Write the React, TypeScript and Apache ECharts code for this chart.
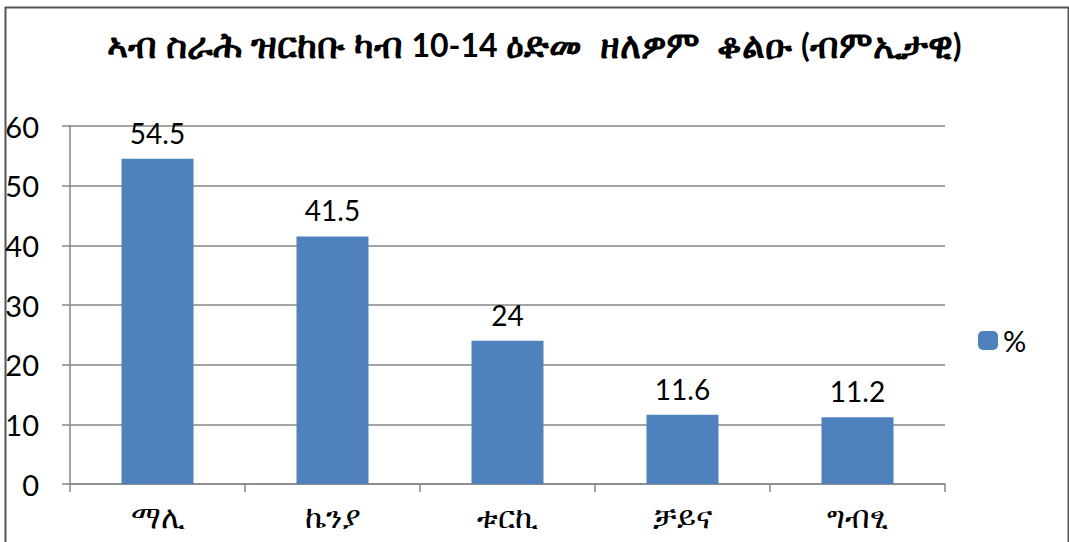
import React, { useEffect, useRef } from "react";
import * as echarts from "echarts";

const titleParts = [
  { t: "ኣብ ስራሕ ዝርከቡ ካብ ", s: "e" },
  { t: "10-14", s: "n" },
  { t: " ዕድመ  ዘለዎም  ቆልዑ ", s: "e" },
  { t: "(", s: "n" },
  { t: "ብምኢታዊ", s: "e" },
  { t: ")", s: "n" },
];
const categories = ["ማሊ", "ኬንያ", "ቱርኪ", "ቻይና", "ግብፂ"];
const seriesName = "%";
const values = [54.5, 41.5, 24, 11.6, 11.2];
const yMin = 0;
const yMax = 60;
const yInterval = 10;

const FONT = "Lato, 'DejaVu Sans', sans-serif";

export default function App() {
  const ref = useRef<HTMLDivElement>(null);
  useEffect(() => {
    if (!ref.current) return;
    const chart = echarts.init(ref.current, undefined, { renderer: "svg" });
    const titleText = titleParts.map((p) => `{${p.s}|${p.t}}`).join("");
    chart.setOption({
      animation: false,
      backgroundColor: "#ffffff",
      title: {
        text: titleText,
        left: "center",
        top: 21,
        textStyle: {
          fontFamily: FONT,
          fontSize: 32,
          fontWeight: "bold",
          color: "#000",
          rich: {
            e: { fontFamily: FONT, fontSize: 36, fontWeight: "bold", color: "#000" },
            n: { fontFamily: FONT, fontSize: 32, fontWeight: "bold", color: "#000" },
          },
        },
      },
      legend: {
        data: [seriesName],
        orient: "vertical",
        left: 973,
        top: 321,
        itemWidth: 20,
        itemHeight: 19,
        itemGap: 8,
        textStyle: { fontFamily: FONT, fontSize: 29, color: "#000" },
      },
      grid: { left: 70, right: 124, top: 126, bottom: 58, containLabel: false },
      xAxis: {
        type: "category",
        data: categories,
        axisLine: { show: true, lineStyle: { color: "#868686", width: 1.5 } },
        axisTick: { show: true, length: 8, lineStyle: { color: "#868686", width: 1.5 } },
        axisLabel: { fontFamily: FONT, fontSize: 31, color: "#000", margin: 16 },
      },
      yAxis: {
        type: "value",
        min: yMin,
        max: yMax,
        interval: yInterval,
        axisLine: { show: true, lineStyle: { color: "#868686", width: 1.5 } },
        axisTick: { show: true, length: 8, lineStyle: { color: "#868686", width: 1.5 } },
        splitLine: { show: true, lineStyle: { color: "#868686", width: 1.5 } },
        axisLabel: { fontFamily: FONT, fontSize: 29, color: "#000", margin: 31 },
      },
      series: [
        {
          name: seriesName,
          type: "bar",
          data: values,
          barWidth: 72,
          itemStyle: { color: "#4F81BD" },
          label: {
            show: true,
            position: "top",
            distance: 12,
            fontFamily: FONT,
            fontSize: 28,
            color: "#000",
          },
        },
      ],
      graphic: [
        {
          type: "rect",
          left: 3,
          top: 5,
          shape: { width: 1063, height: 545 },
          style: { fill: "none", stroke: "#555", lineWidth: 2 },
          silent: true,
        },
      ],
    });
    return () => chart.dispose();
  }, []);
  return (
    <div
      ref={ref}
      style={{ position: "absolute", left: 0, top: 0, width: 1069, height: 542 }}
    />
  );
}
